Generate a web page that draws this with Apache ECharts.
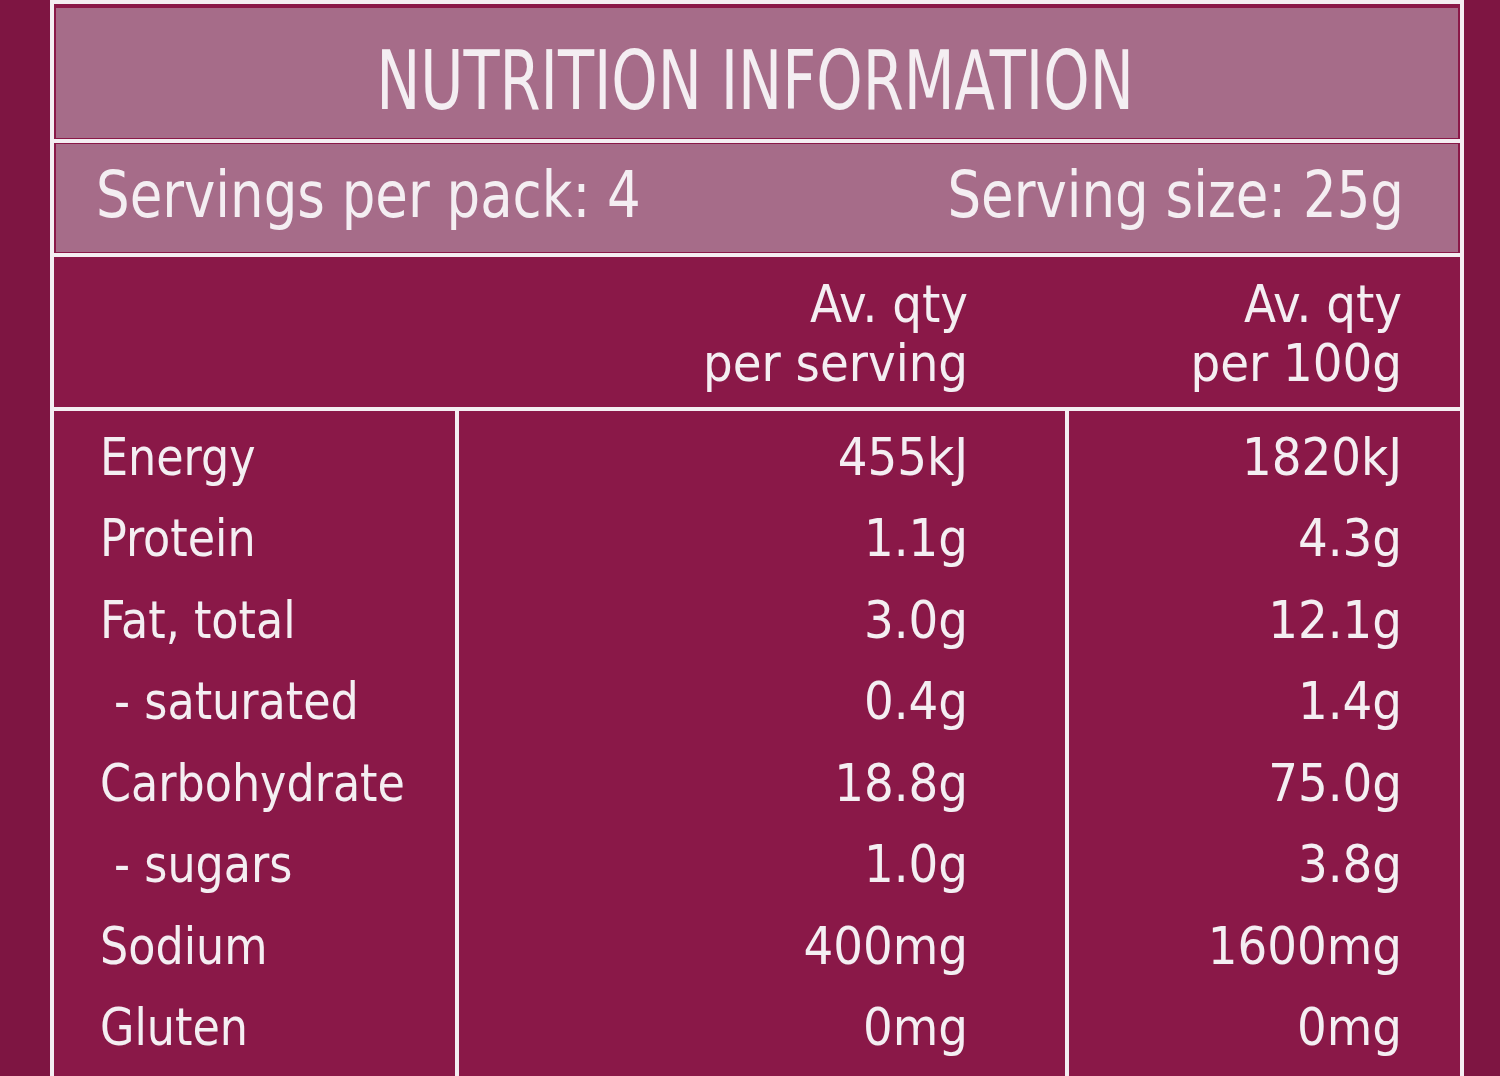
<!DOCTYPE html>
<html><head><meta charset="utf-8">
<script src="https://cdn.jsdelivr.net/npm/echarts@6/dist/echarts.min.js"></script>
<style>html,body{margin:0;padding:0;background:#8a1848}#c{width:1500px;height:1076px}</style>
</head><body><div id="c"></div>
<script>
var nutrients = ['Energy', 'Protein', 'Fat, total', ' - saturated', 'Carbohydrate', ' - sugars', 'Sodium', 'Gluten'];
var perServing = ['455kJ', '1.1g', '3.0g', '0.4g', '18.8g', '1.0g', '400mg', '0mg'];
var per100g = ['1820kJ', '4.3g', '12.1g', '1.4g', '75.0g', '3.8g', '1600mg', '0mg'];
var title = 'NUTRITION INFORMATION';
var servingsText = 'Servings per pack: 4';
var sizeText = 'Serving size: 25g';
var colHeads = [['Av. qty', 'per serving'], ['Av. qty', 'per 100g']];

var chart = echarts.init(document.getElementById('c'));
var font = '"Liberation Sans Narrow", "DejaVu Sans Condensed", sans-serif';
var white = '#f4eef2';
var els = [];
function txt(x, y, s, size, align, weight, sx) {
    els.push({type: 'text', x: x, y: y, scaleX: sx || 1, style: {text: s, fill: white, font: (weight || 'normal') + ' ' + size + 'px ' + font, textAlign: align || 'left', textVerticalAlign: 'middle'}});
}
function line(x1, y1, x2, y2, w) {
    els.push({type: 'line', shape: {x1: x1, y1: y1, x2: x2, y2: y2}, style: {stroke: white, lineWidth: w || 3}});
}
els.push({type: 'rect', shape: {x: 0, y: 0, width: 52, height: 1076}, style: {fill: '#7e1542'}});
els.push({type: 'rect', shape: {x: 1464, y: 0, width: 36, height: 1076}, style: {fill: '#7e1542'}});
els.push({type: 'rect', shape: {x: 56, y: 8, width: 1402, height: 130}, style: {fill: '#a66c89'}});
els.push({type: 'rect', shape: {x: 56, y: 144, width: 1402, height: 108}, style: {fill: '#a66c89'}});
line(52, 2, 1462, 2, 4);
line(52, 141, 1462, 141, 4);
line(52, 255, 1462, 255, 4);
line(52, 409, 1462, 409, 4);
line(52, 0, 52, 1076, 4);
line(1462, 0, 1462, 1076, 4);
line(457, 409, 457, 1076, 4);
line(1067, 409, 1067, 1076, 4);

txt(755, 88, title, 82, 'center', 'normal', 0.8);
txt(96, 200, servingsText, 64, 'left', 'normal', 0.92);
txt(1404, 200, sizeText, 64, 'right', 'normal', 0.92);
colHeads.forEach(function (h, i) {
    var x = i === 0 ? 968 : 1402;
    txt(x, 308, h[0], 52, 'right');
    txt(x, 367, h[1], 52, 'right');
});
nutrients.forEach(function (n, i) {
    var y = 461 + i * 81.5;
    txt(100, y, n, 52, 'left', 'normal', 0.95);
    txt(968, y, perServing[i], 52, 'right');
    txt(1402, y, per100g[i], 52, 'right');
});
chart.setOption({backgroundColor: '#8a1848', graphic: {elements: els}});
</script></body></html>
